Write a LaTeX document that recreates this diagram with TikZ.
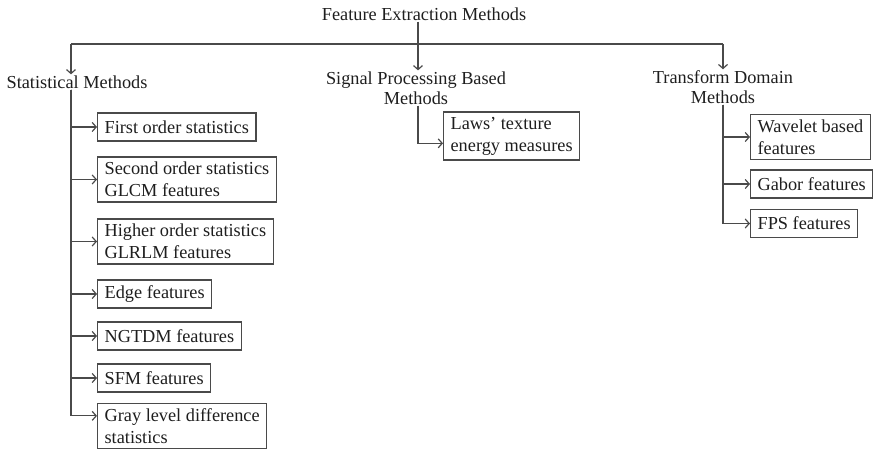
\documentclass[tikz,border=0pt]{standalone}
\usepackage{fontspec}
\setmainfont{Liberation Serif}
\usetikzlibrary{arrows.meta}

\definecolor{inkgray}{HTML}{1E1E1E}
\definecolor{linegray}{HTML}{4A4A4A}

\tikzset{
  head/.style = {align=center, inner sep=1pt, text=inkgray,
                 font=\fontsize{18.3}{20}\selectfont},
  featbox/.style = {draw=linegray, line width=1.2pt, anchor=west, align=left,
                    inner xsep=7pt, inner ysep=5pt, minimum height=28pt,
                    text=inkgray, font=\fontsize{18.3}{22}\selectfont},
  arr/.style = {draw=linegray, line width=1.2pt,
                -{Straight Barb[length=4pt,width=9pt]}},
  bus/.style = {draw=linegray, line width=1.2pt}
}

\begin{document}
\begin{tikzpicture}[x=1pt, y=-1pt]
        \useasboundingbox (0,0) rectangle (876,449);

        % top level
        \node[head] (fem) at (424,14) {Feature Extraction Methods};
        \coordinate (hub) at (418,44);
        \coordinate (lbus) at (71,44);
        \coordinate (rbus) at (723,44);

        \node[head] (stat) at (77,82) {Statistical Methods};
        \node[head] (spb) at (416,88) {Signal Processing Based\\Methods};
        \node[head] (tdm) at (723,87) {Transform Domain\\Methods};

        \draw[arr] (hub |- fem.south) -- (hub |- spb.north);
        \draw[bus] (lbus) -- (rbus);
        \draw[arr] (lbus) -- (lbus |- stat.north);
        \draw[arr] (rbus) -- (rbus |- tdm.north);

        % statistical methods
        \node[featbox] (fos) at (97,127) {First order statistics};
        \node[featbox] (sos) at (97,179.5) {Second order statistics\\GLCM features};
        \node[featbox] (hos) at (97,241.5) {Higher order statistics\\GLRLM features};
        \node[featbox] (edge) at (97,294) {Edge features};
        \node[featbox] (ngtdm) at (97,336) {NGTDM features};
        \node[featbox] (sfm) at (97,378) {SFM features};
        \node[featbox] (gld) at (97,426) {Gray level difference\\statistics};

        \foreach \b in {fos,sos,hos,edge,ngtdm,sfm}
          \draw[arr] (lbus |- stat.south) |- (\b.west);
        \draw[arr] (lbus |- stat.south) |- ([yshift=-13pt]gld.north west);

        % signal processing based methods
        \node[featbox] (laws) at (443,136) {Laws' texture\\energy measures};
        \draw[arr] (hub |- spb.south) |- ([yshift=-32pt]laws.north west);

        % transform domain methods
        \node[featbox] (wav) at (750,137) {Wavelet based\\features};
        \node[featbox] (gabor) at (750,184) {Gabor features};
        \node[featbox] (fps) at (750,223.5) {FPS features};

        \foreach \b in {wav,gabor,fps}
          \draw[arr] (rbus |- tdm.south) |- (\b.west);
    \end{tikzpicture}
\end{document}
